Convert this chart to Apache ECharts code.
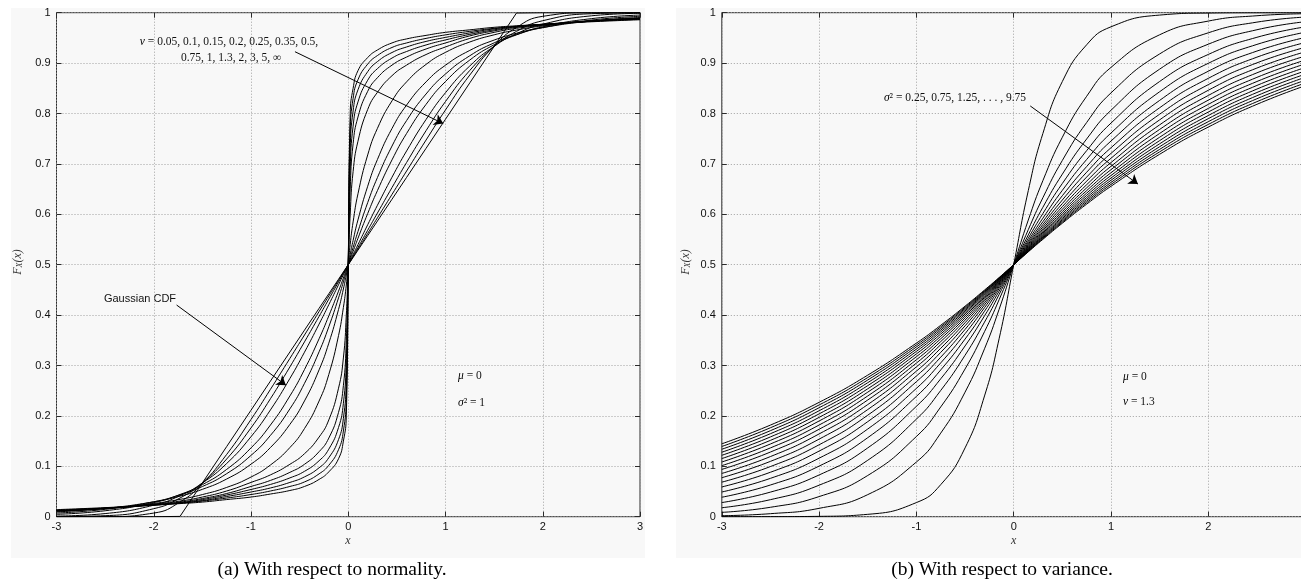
<!DOCTYPE html>
<html><head><meta charset="utf-8"><title>Generalized Gaussian CDFs</title>
<script src="https://cdn.jsdelivr.net/npm/echarts@6.0.0/dist/echarts.min.js"></script>
<style>html,body{margin:0;padding:0;background:#fff;}#chart{width:1301px;height:585px;}</style>
</head><body><div id="chart"></div>
<script>
// ---------------- data ----------------
const xTickValues = [-3, -2, -1, 0, 1, 2, 3];
const yTickValues = [0, 0.1, 0.2, 0.3, 0.4, 0.5, 0.6, 0.7, 0.8, 0.9, 1];

// panel (a): x sample positions and CDF values for each nu
const xNu = [-3,-2.5,-2,-1.73,-1.5,-1.25,-1,-0.8,-0.6,-0.45,-0.3,-0.2,-0.1,-0.05,-0.02,0,0.02,0.05,0.1,0.2,0.3,0.45,0.6,0.8,1,1.25,1.5,1.73,2,2.5,3];
const nuNames = ['0.05','0.1','0.15','0.2','0.25','0.35','0.5','0.75','1','1.3','2','3','5','∞'];
const fNu005 = [0.014,0.018,0.023,0.026,0.029,0.034,0.039,0.045,0.052,0.060,0.074,0.089,0.115,0.150,0.200,0.5,0.800,0.850,0.885,0.911,0.926,0.940,0.948,0.955,0.961,0.966,0.971,0.974,0.977,0.982,0.986];
const fNu010 = [0.013,0.017,0.023,0.027,0.031,0.037,0.044,0.051,0.060,0.069,0.085,0.102,0.133,0.170,0.235,0.5,0.765,0.830,0.867,0.898,0.915,0.931,0.940,0.949,0.956,0.963,0.969,0.973,0.977,0.983,0.987];
const fNu015 = [0.0125,0.017,0.023,0.027,0.032,0.040,0.049,0.057,0.068,0.079,0.097,0.117,0.153,0.195,0.27,0.5,0.73,0.805,0.847,0.883,0.903,0.921,0.932,0.943,0.951,0.960,0.968,0.973,0.977,0.983,0.9875];
const fNu020 = [0.012,0.0165,0.024,0.028,0.034,0.043,0.054,0.064,0.077,0.090,0.111,0.134,0.177,0.225,0.31,0.5,0.69,0.775,0.823,0.866,0.889,0.910,0.923,0.936,0.946,0.957,0.966,0.972,0.976,0.9835,0.988];
const fNu025 = [0.0115,0.0165,0.024,0.029,0.036,0.046,0.060,0.072,0.088,0.104,0.129,0.156,0.207,0.26,0.35,0.5,0.65,0.74,0.793,0.844,0.871,0.896,0.912,0.928,0.940,0.954,0.964,0.971,0.976,0.9835,0.9885];
const fNu035 = [0.011,0.0165,0.025,0.031,0.039,0.051,0.068,0.083,0.104,0.125,0.158,0.192,0.255,0.315,0.40,0.5,0.60,0.685,0.745,0.808,0.842,0.875,0.896,0.917,0.932,0.949,0.961,0.969,0.975,0.9835,0.989];
const fNu050 = [0.0109,0.0166,0.0263,0.0344,0.0439,0.0581,0.0787,0.1026,0.1372,0.1749,0.2295,0.2822,0.3593,0.4151,0.4597,0.5,0.5403,0.5849,0.6407,0.7178,0.7705,0.8251,0.8628,0.8974,0.9213,0.9419,0.9561,0.9656,0.9737,0.9834,0.9891];
const fNu075 = [0.0095,0.0165,0.0295,0.0408,0.0543,0.0748,0.1042,0.1373,0.1832,0.2297,0.2913,0.3443,0.4111,0.4518,0.4795,0.5,0.5205,0.5482,0.5889,0.6557,0.7087,0.7703,0.8168,0.8627,0.8958,0.9252,0.9457,0.9592,0.9705,0.9835,0.9905];
const fNu100 = [0.0072,0.0146,0.0296,0.0433,0.0599,0.0854,0.1216,0.1613,0.2140,0.2646,0.3271,0.3768,0.4341,0.4659,0.4861,0.5,0.5139,0.5341,0.5659,0.6232,0.6729,0.7354,0.7860,0.8387,0.8784,0.9146,0.9401,0.9567,0.9704,0.9854,0.9928];
const fNu130 = [0.0047,0.0118,0.0280,0.0440,0.0636,0.0939,0.1365,0.1819,0.2396,0.2920,0.3530,0.3985,0.4476,0.4735,0.4893,0.5,0.5107,0.5265,0.5524,0.6015,0.6470,0.7080,0.7604,0.8181,0.8635,0.9061,0.9364,0.9560,0.9720,0.9882,0.9953];
const fNu200 = [0.0013,0.0062,0.0228,0.0418,0.0668,0.1056,0.1587,0.2119,0.2743,0.3264,0.3821,0.4207,0.4602,0.4801,0.4920,0.5,0.5080,0.5199,0.5398,0.5793,0.6179,0.6736,0.7257,0.7881,0.8413,0.8944,0.9332,0.9582,0.9772,0.9938,0.9987];
const fNu300 = [0.0001,0.0020,0.0159,0.0371,0.0673,0.1145,0.1762,0.2341,0.2972,0.3469,0.3975,0.4316,0.4658,0.4829,0.4932,0.5,0.5068,0.5171,0.5342,0.5684,0.6025,0.6531,0.7028,0.7659,0.8238,0.8855,0.9327,0.9629,0.9841,0.9980,0.9999];
const fNu500 = [0.0000,0.0001,0.0072,0.0292,0.0661,0.1236,0.1929,0.2527,0.3141,0.3605,0.4070,0.4380,0.4690,0.4845,0.4938,0.5,0.5062,0.5155,0.5310,0.5620,0.5930,0.6395,0.6859,0.7473,0.8071,0.8764,0.9339,0.9708,0.9928,0.9999,1.0000];
const fNuInf = [0,0,0,0.0006,0.0670,0.1392,0.2113,0.2691,0.3268,0.3701,0.4134,0.4423,0.4711,0.4856,0.4942,0.5,0.5058,0.5144,0.5289,0.5577,0.5866,0.6299,0.6732,0.7309,0.7887,0.8608,0.9330,0.9994,1,1,1];

// panel (b): x sample positions and CDF values for each variance (nu = 1.3)
const xVar = [-3,-2.5,-2,-1.5,-1,-0.75,-0.5,-0.3,-0.15,0,0.15,0.3,0.5,0.75,1,1.5,2,2.5,3];
const varNames = ['0.25','0.75','1.25','1.75','2.25','2.75','3.25','3.75','4.25','4.75','5.25','5.75','6.25','6.75','7.25','7.75','8.25','8.75','9.25','9.75'];
const fVar025 = [0.0000,0.0001,0.0007,0.0047,0.0280,0.0636,0.1365,0.2396,0.3530,0.5,0.6470,0.7604,0.8635,0.9364,0.9720,0.9953,0.9993,0.9999,1.0000];
const fVar075 = [0.0020,0.0060,0.0166,0.0438,0.1085,0.1658,0.2471,0.3332,0.4114,0.5,0.5886,0.6668,0.7529,0.8342,0.8915,0.9562,0.9834,0.9940,0.9980];
const fVar125 = [0.0086,0.0187,0.0399,0.0818,0.1591,0.2178,0.2931,0.3671,0.4305,0.5,0.5695,0.6329,0.7069,0.7822,0.8409,0.9182,0.9601,0.9813,0.9914];
const fVar175 = [0.0178,0.0338,0.0625,0.1120,0.1936,0.2505,0.3203,0.3860,0.4409,0.5,0.5591,0.6140,0.6797,0.7495,0.8064,0.8880,0.9375,0.9662,0.9822];
const fVar225 = [0.0280,0.0488,0.0828,0.1365,0.2190,0.2736,0.3388,0.3985,0.4476,0.5,0.5524,0.6015,0.6612,0.7264,0.7810,0.8635,0.9172,0.9512,0.9720];
const fVar275 = [0.0386,0.0629,0.1004,0.1568,0.2387,0.2912,0.3524,0.4077,0.4526,0.5,0.5474,0.5923,0.6476,0.7088,0.7613,0.8432,0.8996,0.9371,0.9614];
const fVar325 = [0.0490,0.0761,0.1161,0.1740,0.2546,0.3052,0.3631,0.4147,0.4563,0.5,0.5437,0.5853,0.6369,0.6948,0.7454,0.8260,0.8839,0.9239,0.9510];
const fVar375 = [0.0590,0.0882,0.1302,0.1886,0.2679,0.3165,0.3716,0.4202,0.4593,0.5,0.5407,0.5798,0.6284,0.6835,0.7321,0.8114,0.8698,0.9118,0.9410];
const fVar425 = [0.0685,0.0995,0.1427,0.2014,0.2791,0.3261,0.3787,0.4248,0.4617,0.5,0.5383,0.5752,0.6213,0.6739,0.7209,0.7986,0.8573,0.9005,0.9315];
const fVar475 = [0.0774,0.1098,0.1539,0.2126,0.2888,0.3342,0.3848,0.4288,0.4638,0.5,0.5362,0.5712,0.6152,0.6658,0.7112,0.7874,0.8461,0.8902,0.9226];
const fVar525 = [0.0858,0.1193,0.1642,0.2225,0.2973,0.3413,0.3900,0.4321,0.4655,0.5,0.5345,0.5679,0.6100,0.6587,0.7027,0.7775,0.8358,0.8807,0.9142];
const fVar575 = [0.0938,0.1283,0.1735,0.2316,0.3048,0.3475,0.3945,0.4351,0.4670,0.5,0.5330,0.5649,0.6055,0.6525,0.6952,0.7684,0.8265,0.8717,0.9062];
const fVar625 = [0.1013,0.1365,0.1819,0.2396,0.3114,0.3530,0.3985,0.4376,0.4683,0.5,0.5317,0.5624,0.6015,0.6470,0.6886,0.7604,0.8181,0.8635,0.8987];
const fVar675 = [0.1085,0.1443,0.1899,0.2471,0.3175,0.3580,0.4021,0.4399,0.4695,0.5,0.5305,0.5601,0.5979,0.6420,0.6825,0.7529,0.8101,0.8557,0.8915];
const fVar725 = [0.1153,0.1515,0.1971,0.2538,0.3230,0.3625,0.4054,0.4419,0.4705,0.5,0.5295,0.5581,0.5946,0.6375,0.6770,0.7462,0.8029,0.8485,0.8847];
const fVar775 = [0.1218,0.1583,0.2040,0.2601,0.3280,0.3666,0.4083,0.4438,0.4715,0.5,0.5285,0.5562,0.5917,0.6334,0.6720,0.7399,0.7960,0.8417,0.8782];
const fVar825 = [0.1279,0.1647,0.2102,0.2659,0.3325,0.3703,0.4110,0.4454,0.4723,0.5,0.5277,0.5546,0.5890,0.6297,0.6675,0.7341,0.7898,0.8353,0.8721];
const fVar875 = [0.1338,0.1707,0.2162,0.2712,0.3368,0.3737,0.4134,0.4469,0.4731,0.5,0.5269,0.5531,0.5866,0.6263,0.6632,0.7288,0.7838,0.8293,0.8662];
const fVar925 = [0.1393,0.1765,0.2217,0.2761,0.3407,0.3768,0.4156,0.4483,0.4739,0.5,0.5261,0.5517,0.5844,0.6232,0.6593,0.7239,0.7783,0.8235,0.8607];
const fVar975 = [0.1446,0.1818,0.2269,0.2809,0.3444,0.3798,0.4177,0.4497,0.4745,0.5,0.5255,0.5503,0.5823,0.6202,0.6556,0.7191,0.7731,0.8182,0.8554];

const nuCurves = [fNu005,fNu010,fNu015,fNu020,fNu025,fNu035,fNu050,fNu075,fNu100,fNu130,fNu200,fNu300,fNu500,fNuInf];
const varCurves = [fVar025,fVar075,fVar125,fVar175,fVar225,fVar275,fVar325,fVar375,fVar425,fVar475,fVar525,fVar575,fVar625,fVar675,fVar725,fVar775,fVar825,fVar875,fVar925,fVar975];

// ---------------- styling ----------------
const SANS = '"Liberation Sans", Arial, Helvetica, sans-serif';
const SERIF = '"Liberation Serif", "Times New Roman", serif';
const FRAME = '#2b2b2b';
const GRIDC = '#a0a0a0';
const FACE = '#f8f8f8';

const PANELS = [
  {left: 56.5, width: 583.5},
  {left: 721.8, width: 583.8}
];
const TOP = 12.7, HEIGHT = 504;

function tickCfg() { return {show: true, inside: true, length: 5, lineStyle: {color: FRAME, width: 1}}; }
function xAxes(gi) {
  return [
    {gridIndex: gi, type: 'value', min: -3, max: 3, interval: 1, position: 'bottom',
     axisLine: {show: false, onZero: false}, axisTick: tickCfg(),
     axisLabel: {show: true, margin: 5, fontSize: 11, color: '#111', fontFamily: SANS,
                 formatter: v => { const t = xTickValues.find(q => Math.abs(q - v) < 1e-9); return t === undefined ? '' : String(t); }},
     splitLine: {show: true, lineStyle: {color: GRIDC, width: 1, type: [1, 2]}}},
    {gridIndex: gi, type: 'value', min: -3, max: 3, interval: 1, position: 'top',
     axisLine: {show: false, onZero: false}, axisTick: tickCfg(),
     axisLabel: {show: false}, splitLine: {show: false}}
  ];
}
function yAxes(gi) {
  return [
    {gridIndex: gi, type: 'value', min: 0, max: 1, interval: 0.1, position: 'left',
     axisLine: {show: false, onZero: false}, axisTick: tickCfg(),
     axisLabel: {show: true, margin: 6, fontSize: 11, color: '#111', fontFamily: SANS,
                 formatter: v => { const t = yTickValues.find(q => Math.abs(q - v) < 1e-9); return t === undefined ? '' : String(t); }},
     splitLine: {show: true, lineStyle: {color: GRIDC, width: 1, type: [1, 2]}}},
    {gridIndex: gi, type: 'value', min: 0, max: 1, interval: 0.1, position: 'right',
     axisLine: {show: false, onZero: false}, axisTick: tickCfg(),
     axisLabel: {show: false}, splitLine: {show: false}}
  ];
}

const series = [];
nuCurves.forEach((arr, k) => {
  series.push({
    name: 'nu=' + nuNames[k], type: 'line', xAxisIndex: 0, yAxisIndex: 0,
    data: xNu.map((x, i) => [x, arr[i]]),
    showSymbol: false, symbol: 'none', smooth: arr === fNuInf ? false : 0.5,
    lineStyle: {color: '#000', width: 1}, z: 3, silent: true
  });
});
varCurves.forEach((arr, k) => {
  series.push({
    name: 'var=' + varNames[k], type: 'line', xAxisIndex: 2, yAxisIndex: 2,
    data: xVar.map((x, i) => [x, arr[i]]),
    showSymbol: false, symbol: 'none', smooth: 0.5,
    lineStyle: {color: '#000', width: 1}, z: 3, silent: true
  });
});

// annotation arrows (in data coordinates)
function arrowLine(pairs) {
  return {
    silent: true, animation: false, symbol: ['none', 'arrow'], symbolSize: 9,
    label: {show: false}, emphasis: {disabled: true},
    lineStyle: {color: '#000', width: 1, type: 'solid', opacity: 1},
    itemStyle: {color: '#000'},
    data: pairs.map(p => [{coord: p[0]}, {coord: p[1]}])
  };
}
series[0].markLine = arrowLine([[[-0.548, 0.9226], [0.977, 0.780]], [[-1.765, 0.420], [-0.641, 0.261]]]);
series[nuCurves.length].markLine = arrowLine([[[0.17, 0.815], [1.277, 0.660]]]);

const it = {fontStyle: 'italic', fontFamily: SERIF, fontSize: 11.5, fill: '#000'};
function mathText(x, y, text, rich, size, align) {
  return {type: 'text', x: x, y: y, z: 20, silent: true,
    style: {text: text, rich: rich, font: (size || 11.5) + 'px ' + SERIF, fill: '#111',
            align: align || 'center', verticalAlign: 'middle', textAlign: align || 'center', textVerticalAlign: 'middle'}};
}
const axRich = {i: {fontStyle: 'italic', fontFamily: SERIF, fontSize: 12, fill: '#333'},
                s: {fontStyle: 'italic', fontFamily: SERIF, fontSize: 8, fill: '#333', verticalAlign: 'bottom', padding: [4, 0, 0, 0]}};
function caption(x, text) {
  return {type: 'text', x: x, y: 570, silent: true,
    style: {text: text, font: '19.5px ' + SERIF, fill: '#000', align: 'center', verticalAlign: 'middle', textAlign: 'center', textVerticalAlign: 'middle'}};
}

const graphic = [
  {type: 'rect', z: -5, silent: true, shape: {x: 11, y: 8, width: 634, height: 550}, style: {fill: FACE}},
  {type: 'rect', z: -5, silent: true, shape: {x: 676, y: 8, width: 625, height: 550}, style: {fill: FACE}},
  caption(332, '(a) With respect to normality.'),
  caption(1002, '(b) With respect to variance.'),
  mathText(348, 541, '{i|x}', axRich),
  mathText(1013.7, 541, '{i|x}', axRich),
  Object.assign(mathText(18, 262, '{i|F}{s|X}{i|(x)}', axRich), {rotation: Math.PI / 2}),
  Object.assign(mathText(686, 262, '{i|F}{s|X}{i|(x)}', axRich), {rotation: Math.PI / 2}),
  mathText(229, 42, '{i|ν} = 0.05, 0.1, 0.15, 0.2, 0.25, 0.35, 0.5,', {i: it}),
  mathText(231, 58, '0.75, 1, 1.3, 2, 3, 5, ∞', {i: it}),
  {type: 'text', x: 140, y: 299, silent: true, style: {text: 'Gaussian CDF', font: '11px ' + SANS, fill: '#111', align: 'center', verticalAlign: 'middle', textAlign: 'center', textVerticalAlign: 'middle'}},
  mathText(458, 376, '{i|μ} = 0', {i: it}, 11.5, 'left'),
  mathText(458, 403, '{i|σ}² = 1', {i: it}, 11.5, 'left'),
  mathText(955, 98, '{i|σ}² = 0.25, 0.75, 1.25, . . . , 9.75', {i: it}),
  mathText(1123, 377, '{i|μ} = 0', {i: it}, 11.5, 'left'),
  mathText(1123, 402, '{i|ν} = 1.3', {i: it}, 11.5, 'left')
];

const chart = echarts.init(document.getElementById('chart'), null, {renderer: 'canvas'});
chart.setOption({
  animation: false,
  backgroundColor: '#ffffff',
  grid: PANELS.map(p => ({left: p.left, top: TOP, width: p.width, height: HEIGHT,
    containLabel: false, outerBoundsMode: 'none',
    show: true, backgroundColor: FACE, borderColor: FRAME, borderWidth: 1})),
  xAxis: [...xAxes(0), ...xAxes(1)],
  yAxis: [...yAxes(0), ...yAxes(1)],
  series: series,
  graphic: graphic
});
</script>
</body></html>
